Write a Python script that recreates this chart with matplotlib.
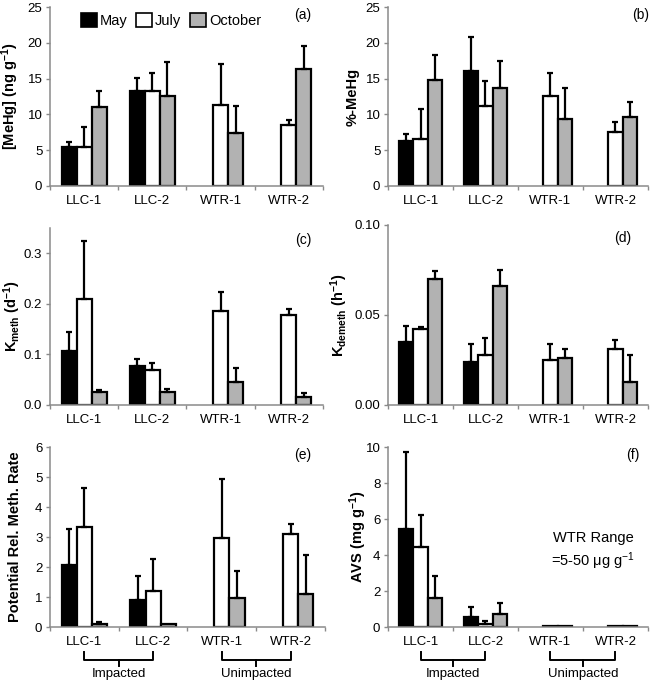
import numpy as np
import matplotlib.pyplot as plt
import matplotlib.transforms as mtransforms
from matplotlib.patches import Patch

plt.rcParams['font.family'] = ['Liberation Sans', 'DejaVu Sans']
plt.rcParams['mathtext.default'] = 'regular'

sites = ['LLC-1', 'LLC-2', 'WTR-1', 'WTR-2']
months = ['May', 'July', 'October']
nan = np.nan

# (a) [MeHg]
mehg_may = [5.4, 13.2, nan, nan]
mehg_may_err = [0.8, 1.9, nan, nan]
mehg_jul = [5.5, 13.3, 11.3, 8.5]
mehg_jul_err = [2.8, 2.5, 5.8, 0.7]
mehg_oct = [11.0, 12.5, 7.4, 16.3]
mehg_oct_err = [2.3, 4.8, 3.8, 3.2]

# (b) %-MeHg
pct_may = [6.3, 16.0, nan, nan]
pct_may_err = [0.9, 4.8, nan, nan]
pct_jul = [6.6, 11.2, 12.6, 7.5]
pct_jul_err = [4.1, 3.5, 3.2, 1.5]
pct_oct = [14.8, 13.7, 9.4, 9.7]
pct_oct_err = [3.5, 3.7, 4.3, 2.1]

# (c) Kmeth
km_may = [0.107, 0.078, nan, nan]
km_may_err = [0.038, 0.013, nan, nan]
km_jul = [0.210, 0.069, 0.185, 0.177]
km_jul_err = [0.114, 0.015, 0.038, 0.013]
km_oct = [0.025, 0.025, 0.046, 0.016]
km_oct_err = [0.004, 0.006, 0.028, 0.008]

# (d) Kdemeth
kd_may = [0.035, 0.024, nan, nan]
kd_may_err = [0.009, 0.010, nan, nan]
kd_jul = [0.042, 0.028, 0.025, 0.031]
kd_jul_err = [0.0015, 0.009, 0.009, 0.005]
kd_oct = [0.070, 0.066, 0.026, 0.013]
kd_oct_err = [0.0045, 0.009, 0.005, 0.015]

# (e) potential rel. meth. rate
pr_may = [2.08, 0.90, nan, nan]
pr_may_err = [1.20, 0.80, nan, nan]
pr_jul = [3.32, 1.20, 2.97, 3.10]
pr_jul_err = [1.33, 1.08, 1.98, 0.33]
pr_oct = [0.10, 0.10, 0.97, 1.10]
pr_oct_err = [0.06, 0.0, 0.90, 1.31]

# (f) AVS
avs_may = [5.42, 0.54, nan, nan]
avs_may_err = [4.30, 0.60, nan, nan]
avs_jul = [4.44, 0.15, 0.08, 0.05]
avs_jul_err = [1.77, 0.17, 0.0, 0.0]
avs_oct = [1.64, 0.71, 0.06, 0.05]
avs_oct_err = [1.20, 0.63, 0.0, 0.0]

colors = ['black', 'white', '#b2b2b2']
spine_col = '#8a8a8a'
w = 0.22


def draw_panel(ax, vals, errs, ylim, yticks, ylabel, tag, tagpos, fmt, labx):
    x = np.arange(len(sites))
    for i, (v, e) in enumerate(zip(vals, errs)):
        v = np.array(v, dtype=float)
        e = np.array(e, dtype=float)
        xi = x + (i - 1) * w
        ax.bar(xi, v, w, color=colors[i], edgecolor='black', linewidth=1.6, zorder=2)
        ok = ~np.isnan(v) & (np.nan_to_num(e) > 0)
        ax.errorbar(xi[ok], v[ok], yerr=[np.zeros(ok.sum()), e[ok]], fmt='none',
                    ecolor='black', elinewidth=1.6, capsize=2.3, capthick=1.6, zorder=3)
    ax.set_xlim(-0.5, len(sites) - 0.5)
    ax.set_ylim(*ylim)
    ax.set_yticks(yticks)
    ax.set_yticklabels([fmt.format(t) for t in yticks])
    ax.set_xticks(x)
    ax.set_xticklabels(sites)
    ax.set_xticks(np.arange(len(sites) + 1) - 0.5, minor=True)
    for s in ['top', 'right']:
        ax.spines[s].set_visible(False)
    for s in ['left', 'bottom']:
        ax.spines[s].set_color(spine_col)
        ax.spines[s].set_linewidth(1.1)
    ax.tick_params(axis='y', length=3, width=1, color=spine_col, pad=2.5, labelsize=9.5)
    ax.tick_params(axis='x', which='major', length=0, pad=6.5, labelsize=9.5)
    ax.tick_params(axis='x', which='minor', length=3, width=1, color=spine_col)
    ax.set_ylabel(ylabel, fontsize=10.5, fontweight='bold')
    ax.yaxis.set_label_coords(labx, 0.5)
    ax.text(tagpos[0], tagpos[1], tag, transform=ax.transAxes, ha='center', va='center', fontsize=10)


def draw_brackets(ax, y0):
    tr = mtransforms.blended_transform_factory(ax.transData, ax.transAxes)
    for (a, b), name in zip([(0, 1), (2, 3)], ['Impacted', 'Unimpacted']):
        ax.plot([a, a, b, b], [y0, y0 - 0.045, y0 - 0.045, y0], color='black', lw=1.4,
                transform=tr, clip_on=False)
        m = (a + b) / 2
        ax.plot([m, m], [y0 - 0.045, y0 - 0.075], color='black', lw=1.4, transform=tr, clip_on=False)
        ax.text(m, y0 - 0.09, name, transform=tr, ha='center', va='top', fontsize=9.5)


fig = plt.figure(figsize=(6.61, 6.87), dpi=100)
ax_a = fig.add_axes([0.0756, 0.7293, 0.413, 0.2605])
ax_b = fig.add_axes([0.587, 0.7293, 0.3933, 0.2605])
ax_c = fig.add_axes([0.0756, 0.4105, 0.413, 0.2576])
ax_d = fig.add_axes([0.587, 0.4105, 0.3933, 0.262])
ax_e = fig.add_axes([0.0756, 0.0873, 0.416, 0.262])
ax_f = fig.add_axes([0.587, 0.0873, 0.3933, 0.262])

draw_panel(ax_a, [mehg_may, mehg_jul, mehg_oct], [mehg_may_err, mehg_jul_err, mehg_oct_err],
           (0, 25), np.arange(0, 26, 5), '[MeHg] (ng g$^{-1}$)', '(a)', (0.927, 0.955), '{:.0f}', -0.105)
draw_panel(ax_b, [pct_may, pct_jul, pct_oct], [pct_may_err, pct_jul_err, pct_oct_err],
           (0, 25), np.arange(0, 26, 5), '%-MeHg', '(b)', (0.97, 0.955), '{:.0f}', -0.11)
draw_panel(ax_c, [km_may, km_jul, km_oct], [km_may_err, km_jul_err, km_oct_err],
           (0, 0.35), [0.0, 0.1, 0.2, 0.3], 'K$_{meth}$ (d$^{-1}$)', '(c)', (0.927, 0.93), '{:.1f}', -0.10)
draw_panel(ax_d, [kd_may, kd_jul, kd_oct], [kd_may_err, kd_jul_err, kd_oct_err],
           (0, 0.10), [0.0, 0.05, 0.10], 'K$_{demeth}$ (h$^{-1}$)', '(d)', (0.904, 0.93), '{:.2f}', -0.145)
draw_panel(ax_e, [pr_may, pr_jul, pr_oct], [pr_may_err, pr_jul_err, pr_oct_err],
           (0, 6), np.arange(0, 7, 1), 'Potential Rel. Meth. Rate', '(e)', (0.92, 0.955), '{:.0f}', -0.10)
draw_panel(ax_f, [avs_may, avs_jul, avs_oct], [avs_may_err, avs_jul_err, avs_oct_err],
           (0, 10), np.arange(0, 11, 2), 'AVS (mg g$^{-1}$)', '(f)', (0.94, 0.955), '{:.0f}', -0.075)

draw_brackets(ax_e, -0.14)
draw_brackets(ax_f, -0.14)

ax_f.text(0.79, 0.42, 'WTR Range\n=5-50 μg g$^{-1}$', transform=ax_f.transAxes,
          ha='center', va='center', fontsize=10.5, linespacing=1.3)

handles = [Patch(facecolor=c, edgecolor='black', linewidth=1.2) for c in colors]
ax_a.legend(handles, months, loc='upper left', bbox_to_anchor=(0.065, 1.04), ncol=3, frameon=False,
            fontsize=10.5, handlelength=1.1, handleheight=1.1, handletextpad=0.2, columnspacing=0.6)

fig.savefig('out.png', dpi=100)
